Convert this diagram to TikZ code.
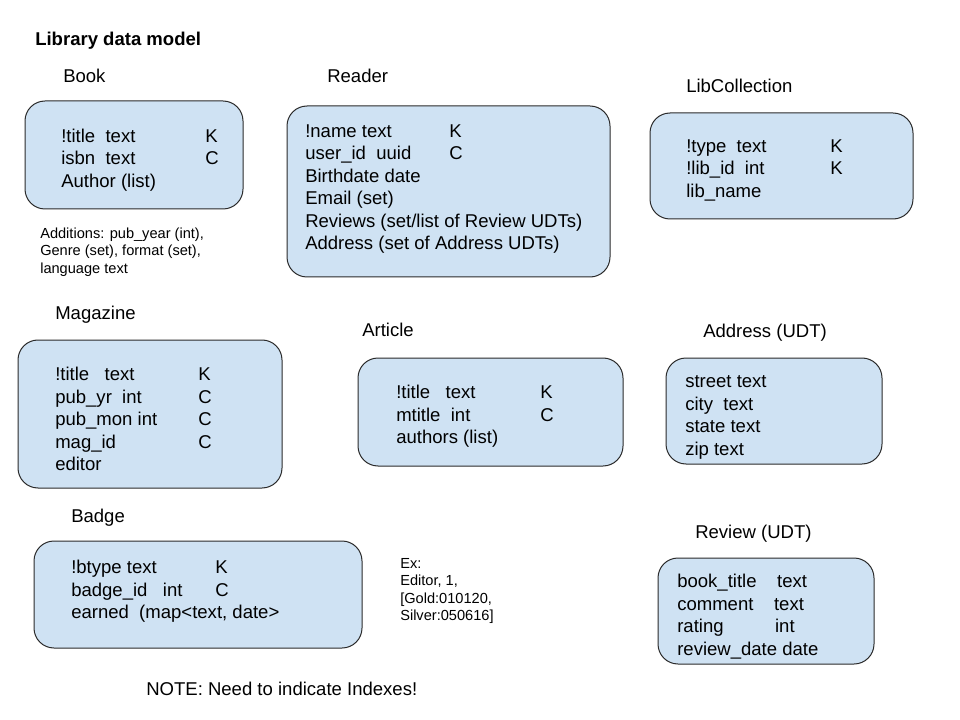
\documentclass[tikz,border=0pt]{standalone}
\usepackage{fontspec}
\setmainfont{Liberation Sans}
\definecolor{boxfill}{HTML}{CFE2F3}
\definecolor{boxline}{HTML}{2B2B2B}
\newcommand{\linesof}[1]{\begin{tabular}[t]{@{}l@{}}#1\end{tabular}}
\tikzset{
  tbl/.style={draw=boxline, fill=boxfill, line width=0.75pt, rounded corners=15pt},
  txt/.style={anchor=base west, inner sep=0pt, font=\fontsize{13.9}{16.875}\selectfont},
  smalltxt/.style={anchor=base west, inner sep=0pt, font=\fontsize{10.95}{13}\selectfont},
  heading/.style={anchor=base west, inner sep=0pt, font=\fontsize{13.9}{16.875}\selectfont\bfseries},
}
\begin{document}
\begin{tikzpicture}[x=0.75pt, y=-0.75pt]
\path[use as bounding box, fill=white] (0,0) rectangle (960,720);

\node[heading] (maintitle) at (35,45.5) {Library data model};

% Book
\node[txt] (booktitle) at (63,82.5) {Book};
\draw[tbl] (25,101) rectangle (243,209);
\node[txt] (bookcols) at (61,142.5) {\linesof{!title~~text\\isbn~~text\\Author (list)}};
\node[txt] (bookkeys) at (205,142.5) {\linesof{K\\C}};
\node[smalltxt] (bookadd) at (40,238.5) {\linesof{Additions: pub\_year (int),\\Genre (set), format (set),\\language text}};

% Reader
\node[txt] (readertitle) at (327,82.5) {Reader};
\draw[tbl] (287,106) rectangle (610,277);
\node[txt] (readercols) at (305,137.5) {\linesof{!name text\\user\_id~~uuid\\Birthdate date\\Email (set)\\Reviews (set/list of Review UDTs)\\Address (set of Address UDTs)}};
\node[txt] (readerkeys) at (449,137.5) {\linesof{K\\C}};

% LibCollection
\node[txt] (libtitle) at (686,92.5) {LibCollection};
\draw[tbl] (650,113) rectangle (913,219);
\node[txt] (libcols) at (686,152.5) {\linesof{!type~~text\\!lib\_id~~int\\lib\_name}};
\node[txt] (libkeys) at (830,152.5) {\linesof{K\\K}};

% Magazine
\node[txt] (magtitle) at (55,319.5) {Magazine};
\draw[tbl] (18,340) rectangle (282,488);
\node[txt] (magcols) at (55,380.5) {\linesof{!title~~~text\\pub\_yr~~int\\pub\_mon int\\mag\_id\\editor}};
\node[txt] (magkeys) at (198,380.5) {\linesof{K\\C\\C\\C}};

% Article
\node[txt] (arttitle) at (362,336.5) {Article};
\draw[tbl] (358,358) rectangle (623,466);
\node[txt] (artcols) at (396,398.5) {\linesof{!title~~~text\\mtitle~~int\\authors (list)}};
\node[txt] (artkeys) at (540,398.5) {\linesof{K\\C}};

% Address
\node[txt] (addrtitle) at (703,337.5) {Address (UDT)};
\draw[tbl] (666,358) rectangle (882,464);
\node[txt] (addrcols) at (685,387.5) {\linesof{street text\\city~~text\\state text\\zip text}};

% Badge
\node[txt] (badgetitle) at (71,522.5) {Badge};
\draw[tbl] (34,541) rectangle (362,648);
\node[txt] (badgecols) at (71,573.5) {\linesof{!btype text\\badge\_id~~~int\\earned~~(map<text, date>}};
\node[txt] (badgekeys) at (215,573.5) {\linesof{K\\C}};

% Example note
\node[smalltxt] (exnote) at (400,568.5) {\linesof{Ex:\\Editor, 1,\\{[}Gold:010120,\\Silver:050616]}};

% Review
\node[txt] (revtitle) at (695,538.5) {Review (UDT)};
\draw[tbl] (658,558) rectangle (874,664);
\node[txt] (revcols) at (677,587.5) {\linesof{book\_title~~~~text\\comment~~~~text\\rating~~~~~~~~~~int\\review\_date date}};

% Note
\node[txt] (note) at (146,695.5) {NOTE: Need to indicate Indexes!};
\end{tikzpicture}
\end{document}
